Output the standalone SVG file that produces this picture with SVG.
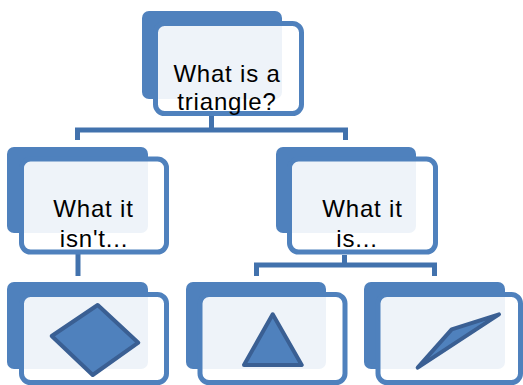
<svg xmlns="http://www.w3.org/2000/svg" width="523" height="385" viewBox="0 0 523 385">
<style>
.back{fill:#4F81BD}
.front{fill:#FFFFFF;fill-opacity:0.9;stroke:#4F81BD;stroke-width:5}
.lbl{font-family:"Liberation Sans",Arial,sans-serif;font-size:24px;letter-spacing:0.8px;fill:#000;text-anchor:middle}
.conn{fill:none;stroke:#4272AD;stroke-width:5}
.shape{fill:#4F81BD;stroke:#3A5F93;stroke-width:4;stroke-linejoin:round}
</style>
<rect width="523" height="385" fill="#FFFFFF"/>
<g id="connectors">
<path class="conn" d="M211.5,116 V130"/>
<path class="conn" d="M77.5,140 V130 H345.5 V140"/>
<path class="conn" d="M78,254 V276"/>
<path class="conn" d="M344.5,255 V265"/>
<path class="conn" d="M256.5,276 V265 H434.5 V276"/>
</g>
<g id="node-root">
<rect class="back" x="142" y="11" width="140" height="88" rx="7"/>
<rect class="front" x="155.5" y="23.5" width="146" height="90" rx="9"/>
<text class="lbl" x="227" y="82">What is a</text>
<text class="lbl" x="227" y="110">triangle?</text>
</g>
<g id="node-isnt">
<rect class="back" x="7" y="147" width="141" height="86" rx="7"/>
<rect class="front" x="21.5" y="159" width="145" height="93" rx="9"/>
<text class="lbl" x="93.5" y="217">What it</text>
<text class="lbl" x="94" y="247">isn't...</text>
</g>
<g id="node-is">
<rect class="back" x="276" y="147" width="140" height="86" rx="7"/>
<rect class="front" x="289.5" y="159" width="146" height="93" rx="9"/>
<text class="lbl" x="362.5" y="217">What it</text>
<text class="lbl" x="357" y="247">is...</text>
</g>
<g id="node-diamond">
<rect class="back" x="7" y="282" width="141" height="87" rx="7"/>
<rect class="front" x="21.5" y="294.5" width="145" height="88" rx="9"/>
<polygon class="shape" points="97.7,305 138.3,342.7 92.7,375 51.7,336"/>
</g>
<g id="node-triangle">
<rect class="back" x="186" y="282" width="140" height="87" rx="7"/>
<rect class="front" x="200" y="294.5" width="145" height="88" rx="9"/>
<polygon class="shape" points="272.7,314.3 301.7,365 244,365"/>
</g>
<g id="node-sliver">
<rect class="back" x="364" y="282" width="141" height="87" rx="7"/>
<rect class="front" x="378" y="294.5" width="142.5" height="88" rx="9"/>
<polygon class="shape" points="499,314.3 451.7,329.3 417.7,367.7"/>
</g>
</svg>
